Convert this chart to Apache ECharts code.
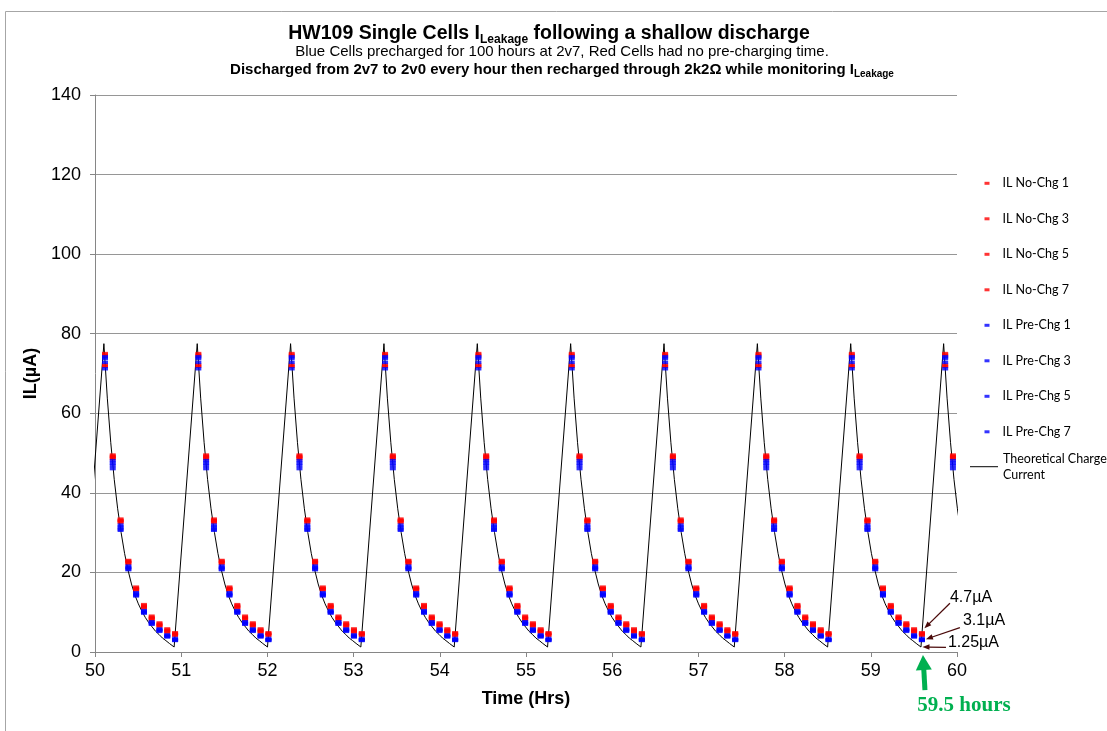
<!DOCTYPE html>
<html><head><meta charset="utf-8">
<script src="https://cdn.jsdelivr.net/npm/echarts@6/dist/echarts.min.js"></script>
<style>html,body{margin:0;padding:0;background:#fff}#c{width:1107px;height:731px}</style>
</head><body><div id="c"></div>
<script>
// ---- data ----
// time (hrs) of the first sample of each one-hour cycle
const cycleStarts = [50.116, 51.199, 52.282, 53.365, 54.448, 55.531, 56.614, 57.697, 58.780, 59.863];
// sample offsets within a cycle (hrs)
const sampleOffsets = [0, 0.090, 0.181, 0.271, 0.361, 0.452, 0.542, 0.632, 0.722, 0.813];
// IL (uA) per sample within a cycle, same in every cycle
const noChg1  = [75.0, 49.5, 33.4, 23.0, 16.3, 11.9, 9.0, 7.3, 5.8, 4.8];
const noChg3  = [74.6, 49.2, 33.1, 22.8, 16.0, 11.6, 8.7, 7.0, 5.5, 4.7];
const noChg5  = [72.1, 48.9, 32.9, 22.5, 15.8, 11.3, 8.4, 6.7, 5.2, 4.4];
const noChg7  = [71.8, 48.6, 32.6, 22.3, 15.6, 11.1, 8.2, 6.5, 5.0, 4.2];
const preChg1 = [74.2, 48.1, 31.9, 21.6, 14.9, 10.4, 7.6, 5.8, 4.3, 3.4];
const preChg3 = [73.8, 47.5, 31.4, 21.3, 14.6, 10.2, 7.4, 5.6, 4.1, 3.1];
const preChg5 = [72.8, 46.9, 30.9, 20.9, 14.3, 9.9, 7.1, 5.4, 3.9, 3.0];
const preChg7 = [71.2, 46.1, 30.6, 20.7, 14.1, 9.8, 7.0, 5.2, 3.8, 2.9];
// theoretical charge current
const peakTimes = [50.103, 51.186, 52.269, 53.352, 54.435, 55.518, 56.601, 57.684, 58.767, 59.845];
const decayOffsets = [0, 0.04, 0.08, 0.12, 0.16, 0.20, 0.24, 0.28, 0.32, 0.36, 0.40, 0.44, 0.48, 0.52, 0.56, 0.60, 0.64, 0.68, 0.72, 0.76, 0.815];
const decayValues  = [77.5, 63.8, 52.6, 43.4, 36.0, 30.0, 24.8, 20.6, 17.1, 14.3, 12.1, 10.3, 8.7, 7.4, 6.3, 5.2, 4.4, 3.5, 2.85, 2.15, 1.25];
const leadingTrough = [49.835, 1.25];
// annotation values
const annTime = 59.593, annRed = 4.7, annBlue = 3.1;
const annTroughTime = 59.582, annTrough = 1.25;

const redNames = ['IL No-Chg 1', 'IL No-Chg 3', 'IL No-Chg 5', 'IL No-Chg 7'];
const blueNames = ['IL Pre-Chg 1', 'IL Pre-Chg 3', 'IL Pre-Chg 5', 'IL Pre-Chg 7'];
const theoryName = 'Theoretical Charge Current';

function buildSeries(vals) {
  const out = [];
  cycleStarts.forEach(s => sampleOffsets.forEach((o, i) => out.push([+(s + o).toFixed(3), vals[i]])));
  return out;
}
const theory = [leadingTrough];
peakTimes.forEach(p => decayOffsets.forEach((o, i) => theory.push([+(p + o).toFixed(3), decayValues[i]])));

const FONT = 'Liberation Sans';
const scatter = (name, vals, color) => ({
  name, type: 'scatter', data: buildSeries(vals), symbol: 'rect', symbolSize: [6, 3.5],
  itemStyle: { color }, z: 3, clip: true, silent: true, animation: false
});

const chart = echarts.init(document.getElementById('c'), null, { renderer: 'canvas' });
chart.setOption({
  animation: false,
  backgroundColor: '#fff',
  grid: { left: 95, right: 150, top: 95, bottom: 79 },
  xAxis: {
    type: 'value', min: 50, max: 60, interval: 1,
    name: 'Time (Hrs)', nameLocation: 'middle', nameGap: 38,
    nameTextStyle: { fontFamily: FONT, fontSize: 18, fontWeight: 'bold', color: '#000' },
    axisLine: { show: true, lineStyle: { color: '#868686', width: 1 } },
    axisTick: { show: true, inside: false, length: 5, lineStyle: { color: '#868686' } },
    axisLabel: { fontFamily: FONT, fontSize: 18, color: '#000', margin: 10 },
    splitLine: { show: false }
  },
  yAxis: {
    type: 'value', min: 0, max: 140, interval: 20,
    name: 'IL(µA)', nameLocation: 'middle', nameGap: 51,
    nameTextStyle: { fontFamily: FONT, fontSize: 18, fontWeight: 'bold', color: '#000' },
    axisLine: { show: true, lineStyle: { color: '#868686', width: 1 } },
    axisTick: { show: true, inside: false, length: 5, lineStyle: { color: '#868686' } },
    axisLabel: { fontFamily: FONT, fontSize: 18, color: '#000', margin: 14 },
    splitLine: { show: true, lineStyle: { color: '#969696', width: 1 } }
  },
  legend: [
    {
      orient: 'vertical', left: 984.5, top: 175.3, padding: 0,
      itemWidth: 5, itemHeight: 3, itemGap: 19.5, icon: 'rect',
      textStyle: { fontFamily: 'Lato', fontSize: 12.5, color: '#000', lineHeight: 16, padding: [0, 0, 0, 8] },
      data: redNames.concat(blueNames), selectedMode: false
    },
    {
      orient: 'vertical', left: 970, top: 442.7, padding: 0,
      itemWidth: 28, itemHeight: 1, icon: 'rect',
      textStyle: { fontFamily: 'Lato', fontSize: 12.5, color: '#000', lineHeight: 16, padding: [16, 0, 0, 0] },
      formatter: n => 'Theoretical Charge\nCurrent',
      data: [theoryName], selectedMode: false
    }
  ],
  series: [
    {
      name: theoryName, type: 'line', data: theory, showSymbol: false, symbol: 'none',
      lineStyle: { color: '#000', width: 1 }, itemStyle: { color: '#000' }, z: 2, clip: true, silent: true
    },
    scatter(redNames[0], noChg1, '#ff0000'),
    scatter(redNames[1], noChg3, '#ff0000'),
    scatter(redNames[2], noChg5, '#ff0000'),
    scatter(redNames[3], noChg7, '#ff0000'),
    scatter(blueNames[0], preChg1, '#0000ff'),
    scatter(blueNames[1], preChg3, '#0000ff'),
    scatter(blueNames[2], preChg5, '#0000ff'),
    scatter(blueNames[3], preChg7, '#0000ff')
  ]
});

// ---- annotations anchored to data coordinates ----
const px = (t, v) => chart.convertToPixel({ gridIndex: 0 }, [t, v]);
function arrow(p0, p1, color, w, headL, headW) {
  const dx = p1[0] - p0[0], dy = p1[1] - p0[1], len = Math.hypot(dx, dy);
  const ux = dx / len, uy = dy / len, nx = -uy, ny = ux;
  const bx = p1[0] - ux * headL, by = p1[1] - uy * headL;
  return [
    { type: 'line', silent: true, shape: { x1: p0[0], y1: p0[1], x2: bx + ux * 1, y2: by + uy * 1 }, style: { stroke: color, lineWidth: w } },
    { type: 'polygon', silent: true, shape: { points: [[p1[0], p1[1]], [bx + nx * headW / 2, by + ny * headW / 2], [bx - nx * headW / 2, by - ny * headW / 2]] }, style: { fill: color } }
  ];
}
const R = px(annTime, annRed), B = px(annTime, annBlue), T = px(annTroughTime, annTrough);
const AC = '#4a0a0a';
const TX = 557;
const annText = (x, y, text) => ({ type: 'text', silent: true, x, y, style: { text, fontFamily: FONT, fontSize: 16, fill: '#000', align: 'left', verticalAlign: 'middle' } });

const graphics = [
  { type: 'rect', silent: true, shape: { x: 5.5, y: 11.5, width: 1300, height: 900 }, style: { fill: null, stroke: '#a6a6a6', lineWidth: 1 } },
  { type: 'text', silent: true, x: TX - 8, y: 34, style: {
      text: '{a|HW109 Single Cells I}{s|Leakage}{a| following a shallow discharge}',
      align: 'center', verticalAlign: 'middle',
      rich: {
        a: { fontFamily: FONT, fontSize: 19.5, fontWeight: 'bold', fill: '#000', lineHeight: 23 },
        s: { fontFamily: FONT, fontSize: 12, fontWeight: 'bold', fill: '#000', lineHeight: 12, verticalAlign: 'bottom' }
      } } },
  { type: 'text', silent: true, x: TX + 5, y: 52, style: {
      text: 'Blue Cells precharged for 100 hours at 2v7, Red Cells had no pre-charging time.',
      fontFamily: FONT, fontSize: 15, fill: '#000', align: 'center', verticalAlign: 'middle' } },
  { type: 'text', silent: true, x: TX + 5, y: 70, style: {
      text: '{a|Discharged from 2v7 to 2v0 every hour then recharged through 2k2Ω while monitoring I}{s|Leakage}',
      align: 'center', verticalAlign: 'middle',
      rich: {
        a: { fontFamily: FONT, fontSize: 15, fontWeight: 'bold', fill: '#000', lineHeight: 18 },
        s: { fontFamily: FONT, fontSize: 10, fontWeight: 'bold', fill: '#000', lineHeight: 10, verticalAlign: 'bottom' }
      } } },
  ...arrow([R[0] + 28, R[1] - 30], [R[0] + 2.5, R[1] - 5], AC, 1.3, 7, 5.5),
  ...arrow([B[0] + 38, B[1] - 12], [B[0] + 4, B[1] - 0.5], AC, 1.3, 7, 5.5),
  ...arrow([T[0] + 25, T[1] + 0.3], [T[0] + 1.5, T[1]], AC, 1.3, 7, 5.5),
  annText(R[0] + 28, R[1] - 36, '4.7µA'),
  annText(B[0] + 41, B[1] - 19, '3.1µA'),
  annText(T[0] + 27, T[1] - 4, '1.25µA'),
  ...arrow([T[0] + 4, T[1] + 43], [T[0] + 2, T[1] + 8], '#00b050', 5, 15, 16),
  { type: 'text', silent: true, x: T[0] + 43, y: T[1] + 59, style: { text: '59.5 hours', fontFamily: 'Liberation Serif', fontSize: 21, fontWeight: 'bold', fill: '#00b050', align: 'center', verticalAlign: 'middle' } }
];
chart.setOption({ graphic: graphics });
</script>
</body></html>
